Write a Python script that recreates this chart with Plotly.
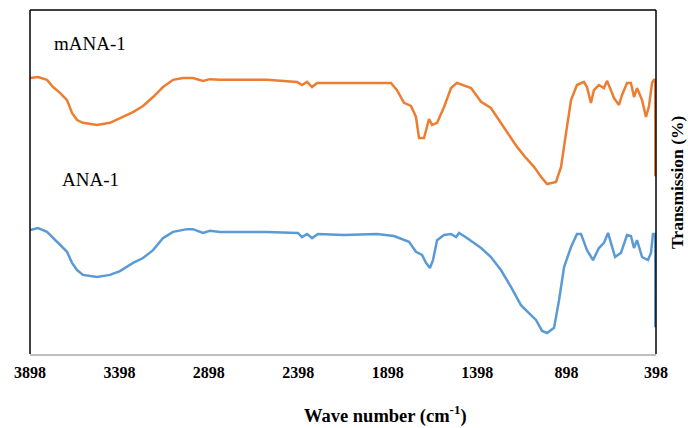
import plotly.graph_objects as go

# mANA-1 spectrum (wavenumber cm-1, transmission %)
mana_wn = [3898, 3853, 3803, 3769, 3730, 3691, 3663, 3635, 3602, 3523, 3451, 3395, 3322, 3266,
           3210, 3154, 3098, 3043, 2987, 2931, 2892, 2836, 2573, 2405, 2377, 2349, 2321, 2293,
           2142, 1880, 1846, 1807, 1768, 1740, 1723, 1695, 1667, 1650, 1622, 1583, 1544, 1511,
           1432, 1376, 1321, 1248, 1175, 1125, 1080, 1041, 1007, 957, 929, 901, 873, 840, 801,
           784, 762, 745, 717, 689, 672, 650, 633, 605, 588, 560, 538, 521, 504, 476, 454, 437,
           420, 409, 402, 402]
mana_t = [80.2, 80.5, 79.7, 77.6, 75.9, 73.8, 70.1, 68.0, 67.2, 66.6, 67.2, 68.6, 70.3, 72.1,
          74.7, 77.6, 79.7, 80.2, 80.2, 79.4, 79.9, 79.7, 79.7, 79.1, 78.2, 79.1, 77.6, 78.8,
          78.8, 78.8, 76.7, 73.0, 72.1, 68.9, 62.8, 62.8, 68.3, 66.6, 67.2, 71.8, 77.3, 78.8,
          77.3, 73.3, 71.5, 66.0, 60.2, 57.0, 54.4, 51.5, 49.4, 50.0, 54.4, 64.2, 73.8, 78.2, 79.1,
          77.6, 73.0, 76.7, 78.2, 77.3, 79.4, 76.7, 74.4, 72.4, 75.3, 78.8, 78.8, 74.7, 77.3, 73.8,
          68.9, 72.1, 78.8, 79.7, 79.7, 51.7]

# ANA-1 spectrum
ana_wn = [3898, 3853, 3803, 3769, 3730, 3691, 3663, 3635, 3602, 3523, 3451, 3395, 3322, 3266,
          3210, 3154, 3098, 3020, 2987, 2931, 2892, 2836, 2573, 2400, 2377, 2349, 2321, 2288,
          2142, 1958, 1863, 1779, 1740, 1706, 1684, 1662, 1645, 1622, 1583, 1544, 1516, 1499,
          1455, 1376, 1321, 1265, 1209, 1153, 1097, 1069, 1035, 1007, 968, 940, 912, 873, 840,
          817, 784, 750, 717, 689, 666, 650, 627, 594, 560, 538, 521, 504, 476, 443, 426, 415,
          402, 402]
ana_t = [36.0, 36.6, 35.5, 33.7, 31.7, 29.7, 26.5, 24.4, 23.0, 22.4, 23.0, 24.1, 26.5, 27.9,
         30.2, 33.7, 35.5, 36.3, 36.3, 35.2, 35.8, 35.5, 35.5, 35.2, 34.0, 34.9, 33.7, 34.9,
         34.6, 34.9, 34.3, 32.6, 29.7, 28.8, 26.5, 25.0, 27.3, 33.1, 34.6, 34.9, 34.0, 35.2,
         33.7, 30.8, 28.2, 24.4, 19.5, 14.2, 11.3, 9.9, 6.7, 6.1, 7.6, 15.7, 25.3, 31.1, 34.9,
         34.9, 30.2, 27.3, 30.8, 32.3, 35.2, 32.3, 28.2, 29.4, 34.6, 34.3, 30.8, 33.1, 28.2,
         27.3, 29.4, 34.9, 34.9, 7.8]

x_ticks = [3898, 3398, 2898, 2398, 1898, 1398, 898, 398]
x_range = [3898, 398]
y_range = [0, 100]

serif = "Liberation Serif, Times New Roman, serif"

fig = go.Figure()
fig.add_trace(go.Scatter(x=mana_wn, y=mana_t, mode="lines", name="mANA-1",
                         line=dict(color="#ED7D31", width=2.5)))
fig.add_trace(go.Scatter(x=ana_wn, y=ana_t, mode="lines", name="ANA-1",
                         line=dict(color="#5B9BD5", width=2.5)))

fig.update_layout(
    width=688, height=428,
    margin=dict(l=30, r=32, t=10, b=74),
    paper_bgcolor="white", plot_bgcolor="white",
    showlegend=False,
    font=dict(family=serif, color="black"),
    xaxis=dict(range=x_range, tickvals=x_ticks, ticktext=[str(v) for v in x_ticks],
               showgrid=False, zeroline=False, showline=True, linecolor="#bfbfbf",
               linewidth=2, ticks="", ticklabelstandoff=3,
               tickfont=dict(family=serif, size=16, color="black", weight="bold")),
    yaxis=dict(range=y_range, showgrid=False, zeroline=False, showticklabels=False,
               showline=False, ticks=""),
    shapes=[
        dict(type="line", xref="paper", yref="paper", x0=0, x1=1, y0=1, y1=1,
             line=dict(color="black", width=1.5)),
        dict(type="line", xref="paper", yref="paper", x0=0, x1=0, y0=0, y1=1,
             line=dict(color="black", width=1.5)),
        dict(type="line", xref="paper", yref="paper", x0=1, x1=1, y0=0, y1=1,
             line=dict(color="black", width=1.5)),
    ],
    annotations=[
        dict(x=3565, y=90.4, xref="x", yref="y", text="mANA-1", showarrow=False,
             font=dict(family=serif, size=19, color="black")),
        dict(x=3557, y=50.6, xref="x", yref="y", text="ANA-1", showarrow=False,
             font=dict(family=serif, size=19, color="black")),
        dict(x=0.5, y=0, xref="paper", yref="paper", xanchor="center", yanchor="middle",
             xshift=42, yshift=-60,
             text="<b>Wave number (cm<sup>-1</sup>)</b>", showarrow=False,
             font=dict(family=serif, size=18.5, color="black")),
        dict(x=1, y=0.5, xref="paper", yref="paper", xanchor="center", yanchor="middle",
             xshift=21,
             text="<b>Transmission (%)</b>", textangle=-90, showarrow=False,
             font=dict(family=serif, size=17.5, color="black")),
    ],
)

fig.write_html("out.html")
